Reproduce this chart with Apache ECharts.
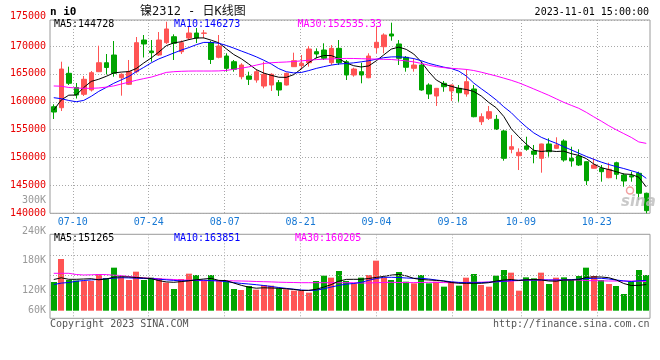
<!DOCTYPE html>
<html><head><meta charset="utf-8">
<script src="https://cdn.jsdelivr.net/npm/echarts@6/dist/echarts.min.js"></script>
<style>html,body{margin:0;padding:0;background:#fff}#c{width:660px;height:360px}</style>
</head><body><div id="c"></div>
<script>
const dates = ['07-05','07-06','07-07',
'07-10','07-11','07-12','07-13','07-14','07-17','07-18','07-19','07-20','07-21',
'07-24','07-25','07-26','07-27','07-28','07-31','08-01','08-02','08-03','08-04',
'08-07','08-08','08-09','08-10','08-11','08-14','08-15','08-16','08-17','08-18',
'08-21','08-22','08-23','08-24','08-25','08-28','08-29','08-30','08-31','09-01',
'09-04','09-05','09-06','09-07','09-08','09-11','09-12','09-13','09-14','09-15',
'09-18','09-19','09-20','09-21','09-22','09-25','09-26','09-27','09-28',
'10-09','10-10','10-11','10-12','10-13','10-16','10-17','10-18','10-19','10-20',
'10-23','10-24','10-25','10-26','10-27','10-30','10-31','11-01'];
const labelDates = ['07-10','07-24','08-07','08-21','09-04','09-18','10-09','10-23'];

const opens = [159110,158930,165100,162560,161340,162110,165390,167000,168380,164310,
163130,165390,171070,169100,168380,170590,171660,168980,171430,172330,
172270,170620,167970,168200,167180,164490,164620,163900,162820,163000,
163420,163000,166290,166460,167000,168980,169280,167000,169580,167180,
164800,165390,164310,169690,169870,172150,170360,167970,166000,166590,
163000,161030,163310,161930,162410,161390,162290,156420,157030,156850,
154760,151480,150330,152070,151170,149860,152430,151650,152960,149860,
150270,149250,148070,148070,146380,149070,146870,146740,147170,143590];
const closes = [158160,165870,163310,161210,164030,165210,167000,166140,165100,164920,
165390,170590,170360,168800,171070,173050,170480,170590,172330,171430,
172330,167580,170000,166000,165820,166590,164030,165390,164920,164920,
162110,165100,167360,166900,169460,168560,167790,169580,167000,164800,
165870,164800,168200,170660,171970,171790,167790,166180,166590,162110,
161390,162410,162700,163000,161620,163600,157320,157320,158220,155120,
149860,151940,150940,151480,150580,152430,151050,152250,149560,149380,
148660,145850,148660,147460,147890,146990,145790,146510,143590,140470];
const highs = [159540,167180,166290,163360,164620,165510,170050,168560,170890,165100,
167490,171610,171970,171070,172500,174350,172090,171000,173400,173220,
172870,170890,171970,168690,167490,166900,165390,165820,167180,165100,
163900,165210,168800,168380,170000,169580,170480,170180,171070,167490,
166110,167000,168690,173460,172270,174180,171070,168200,167790,167180,
163310,162470,163720,163090,163000,165820,163000,157930,159240,157630,
154940,154040,151650,153730,152250,152480,153450,153630,153270,151940,
151480,149300,149860,148660,149070,149250,147170,147460,147460,143700];
const lows = [156910,158340,163000,160580,161030,161840,165330,164890,164490,161090,
163000,165100,167940,167180,168200,170360,167490,168560,171070,170530,
171380,166770,167790,165390,165390,164030,163000,163420,162410,161930,
161030,162910,166230,165820,166290,167790,167490,166590,166590,163900,
164490,163310,164210,168690,168690,170950,166590,165390,165390,161980,
160490,159240,161800,160140,160010,160910,157210,155830,156730,154940,
149430,150760,147760,151220,148970,147280,150150,151600,149250,148360,
148480,145070,148010,145670,146280,146100,144770,145670,142380,140000];

const ma5 = [158520,160320,161180,161210,162560,163650,164040,164560,165170,165320,
165410,165960,166950,167860,168900,170050,170550,170770,171140,171430,
171450,171040,170570,169500,168470,167720,166770,165770,165140,164740,
164400,164370,164870,165890,167020,167880,168290,168290,167740,166950,
166460,166230,166430,167340,168400,169440,169800,169390,168560,167160,
165390,163900,163150,162770,162410,162200,161840,161030,159880,158920,
157370,155150,153730,152410,151300,151080,151220,151080,151150,150690,
150380,149810,148840,148180,147840,147460,147050,146970,146470,144728];
const ma10 = [160730,160550,160230,160010,160240,160980,161860,162570,163310,163920,
164530,165390,166160,166980,167680,168200,168740,169260,169710,170230,
170640,170640,170490,170100,169620,169100,168600,168060,167450,166770,
165940,165390,165170,165250,165590,165980,166290,166570,166770,166860,
166980,167160,167360,167630,167900,168040,168060,167950,167740,167360,
166880,166540,166210,165960,165500,164620,163350,162340,161370,160320,
159100,158040,156690,155490,154420,153630,153070,152550,151940,151370,
150780,150200,149680,149180,148750,148370,148030,147640,147240,146273];
const ma30 = [162830,162790,162560,162470,162410,162410,162470,162630,162840,163180,
163510,163850,164150,164420,164830,165260,165390,165460,165500,165510,
165510,165510,165530,165620,165820,166020,166250,166570,166860,167000,
167070,167130,167220,167330,167450,167560,167630,167680,167740,167770,
167760,167720,167680,167650,167610,167580,167470,167330,167150,166880,
166550,166290,166120,166000,165910,165800,165600,165300,164960,164620,
164240,163850,163400,162860,162300,161730,161160,160530,159900,159360,
158830,158110,157300,156530,155710,154970,154290,153610,152800,152535.33];

const volumes = [159000,228000,165000,163500,162000,162000,183000,171000,202000,175000,
165000,190000,165000,172000,170000,157000,138000,168000,184000,180000,
163000,180000,165000,162000,138000,135000,147000,136000,150000,148000,
140000,137000,133000,132000,127000,162000,178000,172000,192000,162000,
155000,172000,180000,223000,172000,165000,189000,160000,155000,180000,
155000,160000,145000,160000,148000,172000,183000,150000,145000,178000,
195000,187000,133000,173000,170000,187000,153000,172000,173000,165000,
177000,202000,177000,165000,153000,147000,123000,160000,195000,180000];
const volMa5 = [166500,171600,167100,167100,168000,168900,165600,168000,173400,174900,
174000,172500,171000,169200,163200,159300,158100,160200,162600,165600,
168000,169800,163800,163200,156000,149100,143400,140400,141600,141000,
140100,138600,136800,133500,134100,137100,143700,151200,161400,166800,
167100,167100,169500,172800,175800,179700,181800,177300,169800,166500,
165000,163800,161700,157500,155100,155100,155100,155100,156900,162000,
165000,166500,163500,165600,166500,165300,162000,161400,165000,165000,
166200,172800,174300,174000,171900,165300,154500,148500,149100,151265];
const volMa10 = [151500,155700,157500,161100,163500,165300,166800,168600,170400,171900,
171300,170400,169500,168900,167400,165600,163800,162300,163200,164400,
164400,163200,162300,159900,157200,154800,153000,150900,148500,145500,
142500,139800,137400,135000,133500,134400,138600,144000,148800,152700,
154500,158100,164100,169500,173100,173100,172500,171000,170100,170100,
168000,165000,162300,159600,157800,156900,156900,157200,158400,159900,
161400,163200,164400,165000,165000,165000,165000,165000,165000,166200,
167400,169200,170100,170100,168000,165000,162300,160200,162600,163851];
const volMa30 = [185100,185100,185100,181500,180000,180600,181500,181200,179400,178500,
175500,173100,171300,170100,168300,167400,166500,165000,164400,163500,
162900,162900,162900,162900,162300,162000,161400,160500,159900,159300,
158400,157800,157500,156900,156900,156900,156900,156900,156900,156900,
156900,156000,156000,156900,157500,158100,157500,157200,157200,157500,
158100,157800,157200,156900,157500,158100,158100,158400,159000,159600,
160800,162000,163200,164400,165000,165000,165000,165000,165000,165000,
165000,163200,162900,162600,162000,162000,162000,162000,162000,160205];

const priceMin = 140000, priceMax = 174660, priceStep = 5000;
const priceTopLabel = '175000';
const volMin = 50100, volMax = 302100, volBarFloor = 72900;
const volGridValues = [120000, 180000, 240000];
const volTickLabels = ['300K','240K','180K','120K','60K'];

const RED = '#ff5454', GREEN = '#00a400';
const MONO = '"DejaVu Sans Mono", monospace';
const last = a => a[a.length - 1];
const isLabel = (i, v) => labelDates.indexOf(v) >= 0;
const dotted = {type: [1, 2], color: '#a8a8a8', width: 1};

const chart = echarts.init(document.getElementById('c'), null, {renderer: 'canvas'});

function txt(x, y, text, fill, opts) {
  opts = opts || {};
  return {type: 'text', x: x, y: y, silent: true, z: 100,
    style: {text: text, fill: fill, font: opts.font || ('10px ' + MONO),
      align: opts.align || 'left', verticalAlign: 'middle', opacity: opts.opacity == null ? 1 : opts.opacity}};
}

const option = {
  animation: false,
  backgroundColor: '#fff',
  textStyle: {fontFamily: MONO},
  grid: [
    {left: 50, top: 20, width: 600, height: 193.3, show: true, borderColor: '#9a9a9a', borderWidth: 1},
    {left: 50, top: 234.3, width: 600, height: 84, show: true, borderColor: '#9a9a9a', borderWidth: 1}
  ],
  xAxis: [
    {type: 'category', gridIndex: 0, data: dates, boundaryGap: true, show: false},
    {type: 'category', gridIndex: 0, data: dates, boundaryGap: false, position: 'bottom',
      axisLine: {show: false}, axisTick: {show: false},
      axisLabel: {interval: isLabel, color: '#1778d4', fontFamily: MONO, fontSize: 10, margin: 4},
      splitLine: {show: true, interval: isLabel, lineStyle: dotted}},
    {type: 'category', gridIndex: 1, data: dates, boundaryGap: true, show: false},
    {type: 'category', gridIndex: 1, data: dates, boundaryGap: false, position: 'bottom',
      axisLine: {show: false}, axisTick: {show: false}, axisLabel: {show: false},
      splitLine: {show: true, interval: isLabel, lineStyle: dotted}}
  ],
  yAxis: [
    {type: 'value', gridIndex: 0, min: priceMin, max: priceMax, interval: priceStep,
      axisLine: {show: false}, axisTick: {show: false},
      axisLabel: {color: '#e80000', fontFamily: MONO, fontSize: 10, margin: 4, showMaxLabel: false,
        formatter: v => String(v)},
      splitLine: {show: true, lineStyle: dotted}},
    {type: 'value', gridIndex: 1, min: volMin, max: volMax, show: false, splitLine: {show: false}}
  ],
  series: [
    {type: 'candlestick', xAxisIndex: 0, yAxisIndex: 0, barWidth: 5,
      data: opens.map((o, i) => [o, closes[i], lows[i], highs[i]]),
      itemStyle: {color: RED, color0: GREEN, borderColor: RED, borderColor0: GREEN, borderWidth: 1}},
    {type: 'line', xAxisIndex: 0, yAxisIndex: 0, data: ma5, symbol: 'none', lineStyle: {color: '#000', width: 1}},
    {type: 'line', xAxisIndex: 0, yAxisIndex: 0, data: ma10, symbol: 'none', lineStyle: {color: '#0000ff', width: 1}},
    {type: 'line', xAxisIndex: 0, yAxisIndex: 0, data: ma30, symbol: 'none', lineStyle: {color: '#ff00ff', width: 1}},
    {type: 'custom', xAxisIndex: 2, yAxisIndex: 1,
      data: volumes.map((v, i) => [i, v, closes[i] >= opens[i] ? 1 : 0]),
      encode: {x: 0, y: 1},
      renderItem: function (params, api) {
        const i = api.value(0), v = api.value(1), up = api.value(2);
        const top = api.coord([i, v]);
        const base = api.coord([i, volBarFloor]);
        const w = 6;
        return {type: 'rect', shape: {x: Math.round(top[0] - w / 2), y: top[1], width: w, height: base[1] - top[1]},
          style: {fill: up ? RED : GREEN}};
      }},
    {type: 'line', xAxisIndex: 2, yAxisIndex: 1, data: volMa30, symbol: 'none', lineStyle: {color: '#ff00ff', width: 1},
      markLine: {silent: true, symbol: 'none', label: {show: false}, lineStyle: dotted,
        data: volGridValues.map(v => ({yAxis: v}))}},
    {type: 'line', xAxisIndex: 2, yAxisIndex: 1, data: volMa10, symbol: 'none', lineStyle: {color: '#0000ff', width: 1}},
    {type: 'line', xAxisIndex: 2, yAxisIndex: 1, data: volMa5, symbol: 'none', lineStyle: {color: '#000', width: 1}}
  ],
  graphic: {elements: [
    txt(50, 12, 'n i0', '#000', {font: 'bold 11px ' + MONO}),
    txt(140, 12, '镍2312 - 日K线图', '#111', {font: '12px "DejaVu Sans Mono", "Noto Sans CJK SC"'}),
    txt(649, 12.5, '2023-11-01 15:00:00', '#000', {align: 'right'}),
    txt(46, 16.7, priceTopLabel, '#e80000', {align: 'right'}),
    txt(54, 24.5, 'MA5:' + last(ma5), '#000'),
    txt(174, 24.5, 'MA10:' + last(ma10), '#0000ff'),
    txt(297.5, 24.5, 'MA30:' + last(ma30), '#ff00ff'),
    txt(46, 200.5, volTickLabels[0], '#999', {align: 'right'}),
    txt(46, 231, volTickLabels[1], '#999', {align: 'right'}),
    txt(46, 260.5, volTickLabels[2], '#999', {align: 'right'}),
    txt(46, 290, volTickLabels[3], '#999', {align: 'right'}),
    txt(46, 310.3, volTickLabels[4], '#999', {align: 'right'}),
    txt(54, 238.5, 'MA5:' + last(volMa5), '#000'),
    txt(174, 238.5, 'MA10:' + last(volMa10), '#0000ff'),
    txt(295, 238.5, 'MA30:' + last(volMa30), '#ff00ff'),
    txt(50, 324, 'Copyright 2023 SINA.COM', '#555'),
    txt(649.5, 324, 'http://finance.sina.com.cn', '#555', {align: 'right'}),
    txt(621, 202, 'sina', '#bbb', {font: 'italic bold 15px "DejaVu Sans"', opacity: 0.8}),
    {type: 'circle', shape: {cx: 630, cy: 190.5, r: 3.5}, silent: true, z: 100,
      style: {fill: 'none', stroke: '#f2a0a0', lineWidth: 1.5}}
  ]}
};
chart.setOption(option);
</script></body></html>
